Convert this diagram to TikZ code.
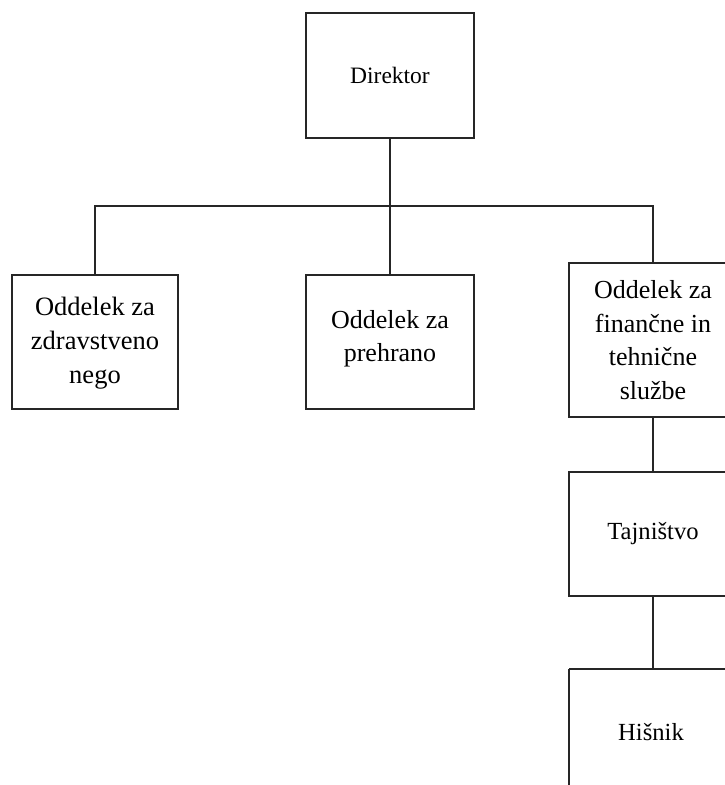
\documentclass[tikz,border=0pt]{standalone}
\usepackage{fontspec}
\setmainfont{Liberation Serif}
\begin{document}
\begin{tikzpicture}[x=1pt,y=-1pt,
  box/.style={draw=black!85,line width=1.3pt,fill=white,inner sep=0pt},
  link/.style={draw=black!85,line width=1.3pt},
  txt/.style={align=center,font=\fontsize{26}{33.4}\selectfont}]
  \useasboundingbox (0,0) rectangle (725,785);
  % boxes drawn by corners
  \draw[box] (306,13) rectangle (474,138);
  \node[txt,font=\fontsize{23.5}{30}\selectfont] (dir) at (390,75.5) {Direktor};
  \coordinate (dirB) at (390,138);

  \draw[box] (12,275) rectangle (178,409);
  \node[txt,font=\fontsize{26.5}{34}\selectfont] (zdr) at (95,343) {Oddelek za\\zdravstveno\\nego};
  \coordinate (zdrT) at (95,275);

  \draw[box] (306,275) rectangle (474,409);
  \node[txt] (pre) at (390,339) {Oddelek za\\prehrano};
  \coordinate (preT) at (390,275);

  \draw[box] (569,263) rectangle (737,417);
  \node[txt] (fin) at (653,340) {Oddelek za\\finančne in\\tehnične\\službe};
  \coordinate (finT) at (653,263);
  \coordinate (finB) at (653,417);

  \draw[box] (569,472) rectangle (737,596);
  \node[txt,font=\fontsize{24.6}{30}\selectfont] (taj) at (653,534) {Tajništvo};
  \coordinate (tajT) at (653,472);
  \coordinate (tajB) at (653,596);

  \draw[box] (569,669) -- (569,790) (569,669) -- (737,669);
  \node[txt,font=\fontsize{24.6}{30}\selectfont] (his) at (651,732) {Hišnik};
  \coordinate (hisT) at (653,669);

  % connectors
  \coordinate (bus) at (390,206);
  \draw[link] (dirB) -- (bus);
  \draw[link] (zdrT) |- (bus) -| (finT);
  \draw[link] (preT) -- (bus);
  \draw[link] (finB) -- (tajT);
  \draw[link] (tajB) -- (hisT);
\end{tikzpicture}
\end{document}
